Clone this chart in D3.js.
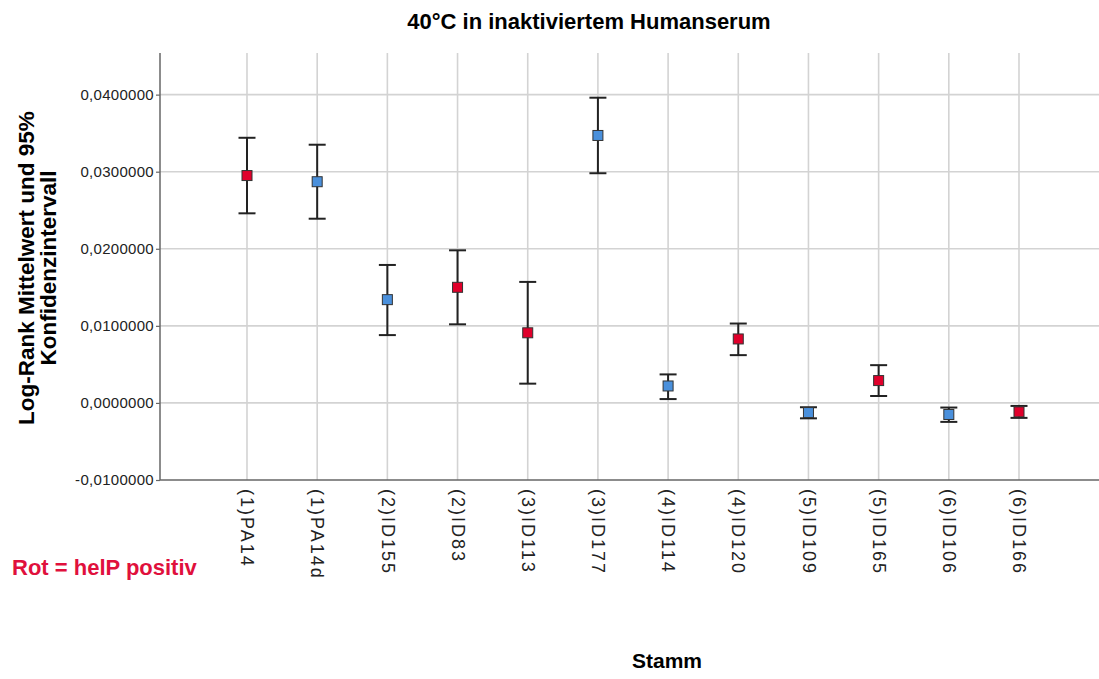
<!DOCTYPE html>
<html>
<head>
<meta charset="utf-8">
<script src="https://cdn.jsdelivr.net/npm/d3@7"></script>
<style>
  body { margin: 0; background: #fff; }
  svg { display: block; font-family: Arial, "Liberation Sans", sans-serif; }
</style>
</head>
<body>
<svg width="1099" height="679"></svg>
<script>
// values
let strains = ['(1)PA14', '(1)PA14d', '(2)ID155', '(2)ID83', '(3)ID113', '(3)ID177',
  '(4)ID114', '(4)ID120', '(5)ID109', '(5)ID165', '(6)ID106', '(6)ID166']
let means = [0.0295, 0.0287, 0.0134, 0.0150, 0.0091, 0.0347,
  0.0022, 0.0083, -0.00125, 0.0029, -0.0015, -0.00116]
let upper = [0.0344, 0.0335, 0.0179, 0.0198, 0.0157, 0.0396,
  0.0037, 0.0103, -0.00056, 0.0049, -0.0006, -0.00039]
let lower = [0.0246, 0.0239, 0.0088, 0.0102, 0.0025, 0.0298,
  0.0005, 0.0062, -0.0020, 0.0009, -0.00246, -0.00194]
let helP = [true, false, false, true, true, false, false, true, false, true, false, true]
let yTicks = [-0.01, 0, 0.01, 0.02, 0.03, 0.04]

let width = 1099
let height = 679
let margin = { top: 53, bottom: 199, left: 160, right: 0 }
let red = '#e0002b'
let blue = '#4a90dc'

let data = strains.map((s, i) => ({
  strain: s, mean: means[i], hi: upper[i], lo: lower[i], pos: helP[i]
}))

let xScale = d3.scalePoint()
  .domain(strains)
  .range([247, 1019])

let yScale = d3.scaleLinear()
  .domain([-0.01, 0.0454])
  .range([height - margin.bottom, margin.top])

let svg = d3.select('svg')

// grid
svg.append('g')
  .selectAll('line')
  .data(yTicks.slice(1))
  .enter()
  .append('line')
  .attr('x1', margin.left)
  .attr('x2', width)
  .attr('y1', d => yScale(d))
  .attr('y2', d => yScale(d))
  .attr('stroke', '#d3d3d3')
  .attr('stroke-width', 1.6)

svg.append('g')
  .selectAll('line')
  .data(strains)
  .enter()
  .append('line')
  .attr('x1', d => xScale(d))
  .attr('x2', d => xScale(d))
  .attr('y1', margin.top)
  .attr('y2', height - margin.bottom)
  .attr('stroke', '#d3d3d3')
  .attr('stroke-width', 1.6)

// y axis
let yAxis = svg.append('g')
  .attr('transform', `translate(${margin.left},0)`)
  .call(d3.axisLeft(yScale)
    .tickValues(yTicks)
    .tickSize(4)
    .tickPadding(2)
    .tickFormat(d => d3.format('.7f')(d).replace('.', ',').replace('−', '-')))
yAxis.select('.domain').remove()
yAxis.append('line')
  .attr('y1', margin.top)
  .attr('y2', height - margin.bottom)
  .attr('stroke', '#666')
  .attr('stroke-width', 1.5)
yAxis.selectAll('.tick line').attr('stroke', '#666').attr('stroke-width', 1.2)
yAxis.selectAll('.tick text')
  .attr('fill', '#222')
  .style('font-size', '15px')
  .style('letter-spacing', '0.3px')

// x axis
let xAxis = svg.append('g')
  .attr('transform', `translate(0,${height - margin.bottom})`)
  .call(d3.axisBottom(xScale).tickSize(0).tickPadding(0))
xAxis.select('.domain').remove()
xAxis.append('line')
  .attr('x1', margin.left)
  .attr('x2', width)
  .attr('stroke', '#666')
  .attr('stroke-width', 1.5)
xAxis.selectAll('.tick text')
  .attr('transform', 'rotate(90)')
  .attr('x', 9)
  .attr('y', 0)
  .attr('dy', '0.35em')
  .attr('text-anchor', 'start')
  .attr('fill', '#222')
  .style('font-size', '18px')
  .style('letter-spacing', '2px')

// error bars
let bars = svg.append('g')
  .selectAll('g')
  .data(data)
  .enter()
  .append('g')

bars.append('line')
  .attr('x1', d => xScale(d.strain))
  .attr('x2', d => xScale(d.strain))
  .attr('y1', d => yScale(d.hi))
  .attr('y2', d => yScale(d.lo))
  .attr('stroke', '#222')
  .attr('stroke-width', 2)

bars.selectAll('.cap')
  .data(d => [d.hi, d.lo].map(v => ({ x: xScale(d.strain), v: v })))
  .enter()
  .append('line')
  .attr('class', 'cap')
  .attr('x1', d => d.x - 8.5)
  .attr('x2', d => d.x + 8.5)
  .attr('y1', d => yScale(d.v))
  .attr('y2', d => yScale(d.v))
  .attr('stroke', '#222')
  .attr('stroke-width', 2)

bars.append('rect')
  .attr('x', d => xScale(d.strain) - 5)
  .attr('y', d => yScale(d.mean) - 5)
  .attr('width', 10)
  .attr('height', 10)
  .attr('fill', d => d.pos ? red : blue)
  .attr('stroke', '#333')
  .attr('stroke-width', 1)

// texts
svg.append('text')
  .attr('x', 589)
  .attr('y', 29)
  .attr('text-anchor', 'middle')
  .style('font-size', '22px')
  .style('font-weight', 'bold')
  .text('40°C in inaktiviertem Humanserum')

svg.append('text')
  .attr('transform', 'translate(34,268) rotate(-90)')
  .attr('text-anchor', 'middle')
  .style('font-size', '22.5px')
  .style('font-weight', 'bold')
  .selectAll('tspan')
  .data(['Log-Rank Mittelwert und 95%', 'Konfidenzintervall'])
  .enter()
  .append('tspan')
  .attr('x', 0)
  .attr('dy', (d, i) => i ? 22 : 0)
  .text(d => d)

svg.append('text')
  .attr('x', 667)
  .attr('y', 668)
  .attr('text-anchor', 'middle')
  .style('font-size', '21px')
  .style('font-weight', 'bold')
  .text('Stamm')

svg.append('text')
  .attr('x', 12)
  .attr('y', 575)
  .attr('fill', '#e0103c')
  .style('font-size', '22px')
  .style('font-weight', 'bold')
  .text('Rot = helP positiv')
</script>
</body>
</html>
